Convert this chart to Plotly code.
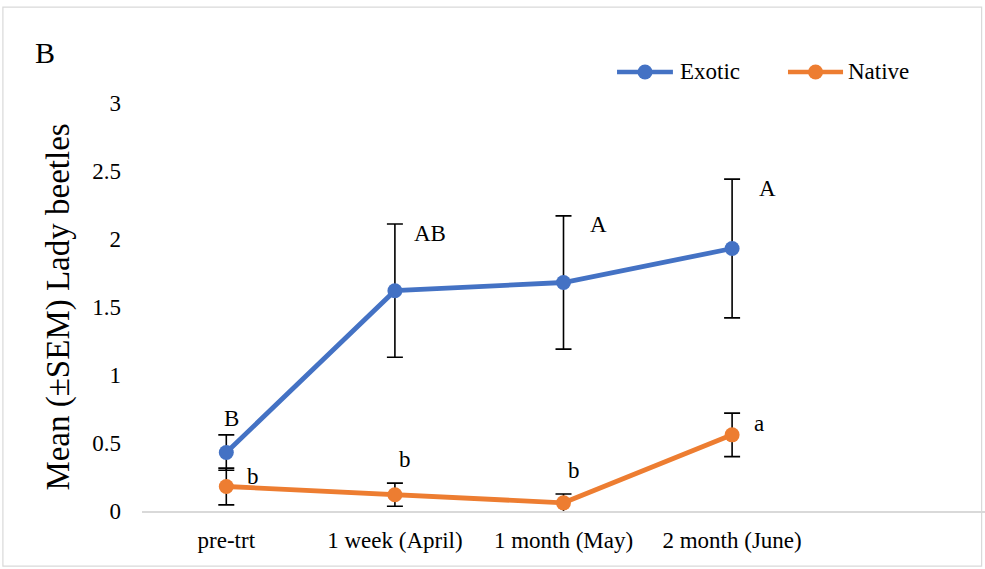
import plotly.graph_objects as go

categories = ["pre-trt", "1 week (April)", "1 month (May)", "2 month (June)"]
exotic_mean = [0.43, 1.62, 1.68, 1.93]
exotic_sem = [0.13, 0.49, 0.49, 0.51]
native_mean = [0.18, 0.12, 0.06, 0.56]
native_sem = [0.135, 0.085, 0.065, 0.16]
exotic_letters = ["B", "AB", "A", "A"]
native_letters = ["b", "b", "b", "a"]

FONT = "Liberation Serif, Times New Roman, serif"
BLUE = "#4472C4"
ORANGE = "#ED7D31"
TXT = 23

xpos = list(range(len(categories)))

fig = go.Figure()
for name, mean, sem, color in [("Exotic", exotic_mean, exotic_sem, BLUE),
                               ("Native", native_mean, native_sem, ORANGE)]:
    fig.add_trace(go.Scatter(
        x=xpos, y=mean, name=name, mode="lines+markers",
        line=dict(color=color, width=4.8),
        marker=dict(color=color, size=15),
        error_y=dict(type="data", array=sem, visible=True,
                     color="black", thickness=1.6, width=8),
        showlegend=False,
    ))

# significance letters
annotations = []
for i, (m, s, t) in enumerate(zip(exotic_mean, exotic_sem, exotic_letters)):
    if i == 0:
        annotations.append(dict(x=xpos[i], y=m + s, text=t, xshift=5, yshift=16))
    else:
        annotations.append(dict(x=xpos[i], y=m + s, text=t, xshift=35, yshift=-9))
for i, (m, s, t) in enumerate(zip(native_mean, native_sem, native_letters)):
    if i == 0:
        annotations.append(dict(x=xpos[i], y=m, text=t, xshift=27, yshift=10))
    elif i == 3:
        annotations.append(dict(x=xpos[i], y=m + s, text=t, xshift=27, yshift=-10))
    else:
        annotations.append(dict(x=xpos[i], y=m + s, text=t, xshift=10, yshift=24))
for a in annotations:
    a.update(xref="x", yref="y", showarrow=False,
             font=dict(family=FONT, size=TXT, color="black"))

# panel label
annotations.append(dict(x=-0.115, y=1.125, xref="paper", yref="paper",
                        text="B", showarrow=False, xanchor="center", yanchor="middle",
                        font=dict(family=FONT, size=30, color="black")))

# legend drawn as line + dot + label
shapes = [dict(type="rect", xref="paper", yref="paper",
               x0=-0.165, x1=0.996, y0=-0.135, y1=1.235,
               line=dict(color="#d9d9d9", width=1.2))]
legend_items = [("Exotic", BLUE, 0.5635, 0.6298, 0.5967, 0.6358),
                ("Native", ORANGE, 0.7663, 0.8316, 0.7990, 0.8351)]
LEG_Y = 1.076
for label, color, lx0, lx1, mx, tx in legend_items:
    shapes.append(dict(type="line", xref="paper", yref="paper",
                       x0=lx0, x1=lx1, y0=LEG_Y, y1=LEG_Y,
                       line=dict(color=color, width=4.5)))
    shapes.append(dict(type="circle", xref="paper", yref="paper",
                       xsizemode="pixel", ysizemode="pixel",
                       xanchor=mx, yanchor=LEG_Y, x0=-7.5, x1=7.5, y0=-7.5, y1=7.5,
                       fillcolor=color, line=dict(color=color, width=0)))
    annotations.append(dict(x=tx, y=LEG_Y, xref="paper", yref="paper", text=label,
                            showarrow=False, xanchor="left", yanchor="middle",
                            font=dict(family=FONT, size=TXT, color="black")))

fig.update_layout(
    width=985, height=569,
    margin=dict(l=142, r=0, t=103, b=58),
    paper_bgcolor="white", plot_bgcolor="white",
    font=dict(family=FONT, size=TXT, color="black"),
    showlegend=False,
    annotations=annotations,
    shapes=shapes,
)
fig.update_xaxes(
    tickmode="array", tickvals=xpos, ticktext=categories,
    range=[-0.5, 4.5], showgrid=False, zeroline=False,
    showline=True, linecolor="#d9d9d9", linewidth=1.5, ticks="",
    tickfont=dict(family=FONT, size=TXT), ticklabelstandoff=8,
)
fig.update_yaxes(
    range=[0, 3], tickvals=[0, 0.5, 1, 1.5, 2, 2.5, 3],
    ticktext=["0", "0.5", "1", "1.5", "2", "2.5", "3"],
    showgrid=False, zeroline=False, showline=False, ticks="",
    tickfont=dict(family=FONT, size=TXT), ticklabelstandoff=20,
    title=dict(text="Mean (±SEM) Lady beetles", standoff=12,
               font=dict(family=FONT, size=33)),
)

fig.write_html("out.html")
